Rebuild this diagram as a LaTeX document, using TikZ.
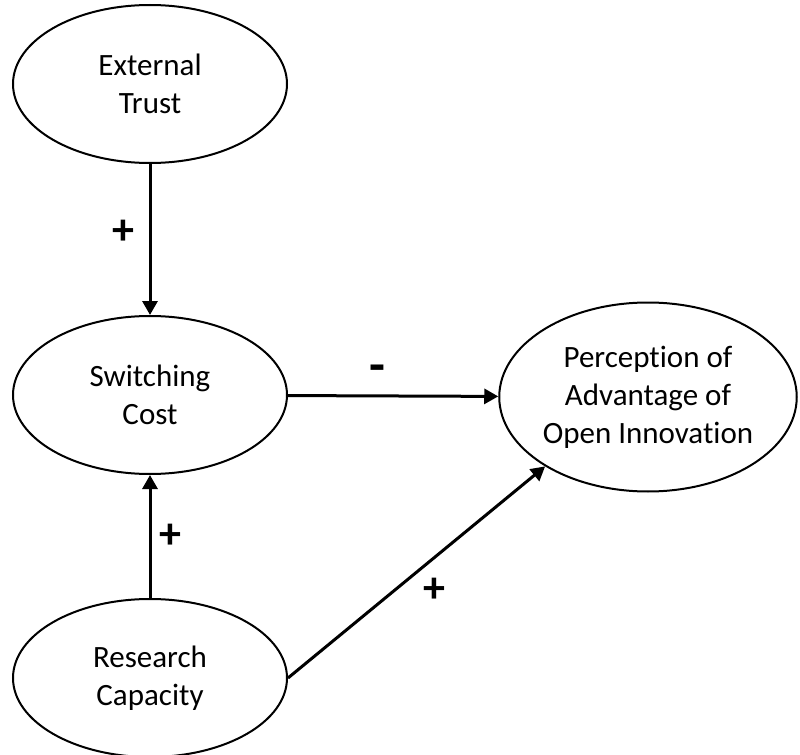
\documentclass[tikz,border=0pt]{standalone}
\usepackage{fontspec}
\setmainfont{Carlito}[Ligatures=NoCommon]
\usetikzlibrary{shapes.geometric,arrows.meta,positioning}

\begin{document}
\begin{tikzpicture}[x=0.5pt, y=-0.5pt,
  construct/.style={draw, ellipse, line width=1pt, inner sep=0pt, align=center,
    minimum width=137pt, minimum height=79pt, font=\fontsize{15.5}{19}\selectfont},
  link/.style={-{Triangle[length=7pt,width=7.5pt]}, line width=1.5pt},
  sign/.style={inner sep=0pt, font=\fontsize{22}{22}\selectfont\bfseries}]
\useasboundingbox (0,0) rectangle (800,755);

\node (trust) [construct] at (150,84) {External\\Trust};
\node (switch) [construct] at (150,395) {Switching\\Cost};
\node (research) [construct] at (150,678) {Research\\Capacity};
\node (advantage) [construct, minimum width=148.5pt, minimum height=94.5pt] at (648,397)
  {Perception of\\Advantage of\\Open Innovation};

\draw[link] (trust) -- (switch) node[sign, midway, xshift=-13.5pt, yshift=3.5pt] {+};
\draw[link] (switch) -- (advantage) node[sign, midway, xshift=-8pt, yshift=11pt, font=\fontsize{26}{26}\selectfont\bfseries] {-};
\draw[link] (research) -- (switch) node[sign, midway, xshift=10pt] {+};
\draw[link] (research.east) -- (advantage.214) node[sign, midway, xshift=8.75pt, yshift=-9pt] {+};
\end{tikzpicture}
\end{document}
